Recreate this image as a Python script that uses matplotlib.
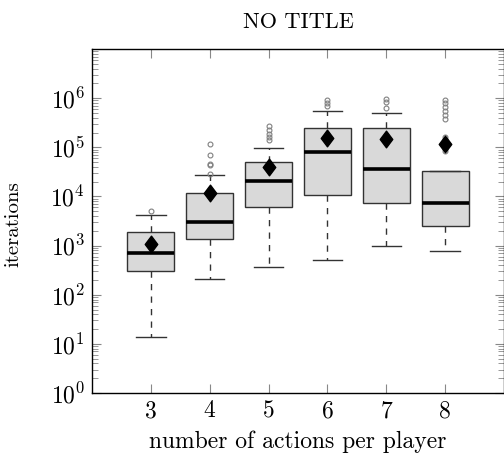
import matplotlib
matplotlib.use("Agg")
import matplotlib.pyplot as plt
from matplotlib.path import Path
from matplotlib.ticker import LogLocator, NullFormatter

plt.rcParams['font.family'] = ['cmr10', 'DejaVu Serif']
plt.rcParams['mathtext.fontset'] = 'cm'
plt.rcParams['axes.formatter.use_mathtext'] = True
plt.rcParams['font.size'] = 17

# per-group box statistics (iterations)
actions = [3, 4, 5, 6, 7, 8]
q1 = [300, 1390, 6100, 10500, 7200, 2460]
medians = [700, 3000, 21000, 79000, 36000, 7200]
q3 = [1900, 12000, 50000, 250000, 244000, 33000]
whisker_lo = [13.5, 208, 370, 520, 990, 770]
whisker_hi = [4200, 27000, 97000, 550000, 500000, 33000]
means = [1100, 11500, 40000, 158000, 145000, 115000]
outliers = [
    [5000],
    [29000, 43000, 45000, 69000, 118000],
    [140000, 162000, 190000, 222000, 270000],
    [680000, 800000, 930000],
    [640000, 850000, 980000],
    [85000, 95000, 105000, 115000, 125000, 140000, 160000,
     380000, 460000, 540000, 650000, 780000, 930000],
]
yticks = [1e0, 1e1, 1e2, 1e3, 1e4, 1e5, 1e6]

stats = []
for i in range(len(actions)):
    stats.append(dict(q1=q1[i], med=medians[i], q3=q3[i],
                      whislo=whisker_lo[i], whishi=whisker_hi[i],
                      mean=means[i], fliers=outliers[i], label=str(actions[i])))

# tall diamond for the mean marker
diamond = Path([(0, 1), (0.75, 0), (0, -1), (-0.75, 0), (0, 1)],
               [Path.MOVETO, Path.LINETO, Path.LINETO, Path.LINETO, Path.CLOSEPOLY])

fig = plt.figure(figsize=(5.04, 4.57), dpi=100)
ax = fig.add_axes([0.1825, 0.140, 0.8175, 0.7527])

ax.bxp(stats, positions=actions, widths=0.8, capwidths=0.5,
       showmeans=True, patch_artist=True,
       boxprops=dict(facecolor='#d9d9d9', edgecolor='#333333', linewidth=1.0),
       medianprops=dict(color='black', linewidth=2.6),
       whiskerprops=dict(color='#333333', linewidth=1.0, linestyle=(0, (4.5, 4.5))),
       capprops=dict(color='#333333', linewidth=1.0),
       flierprops=dict(marker='o', markerfacecolor='none', markeredgecolor='#808080',
                       markersize=3.5, markeredgewidth=0.8),
       meanprops=dict(marker=diamond, markerfacecolor='black', markeredgecolor='black',
                      markersize=12))

ax.set_yscale('log')
ax.set_ylim(1, 1e7)
ax.set_yticks(yticks)
ax.yaxis.set_minor_locator(LogLocator(base=10, subs=range(2, 10), numticks=100))
ax.yaxis.set_minor_formatter(NullFormatter())
ax.set_xlim(2, 9)
ax.set_xticks(actions)
ax.set_xticklabels([str(a) for a in actions])

ax.tick_params(which='both', direction='in', top=True, right=True, color='#888888')
ax.tick_params(which='major', length=6.5, width=0.8, pad=5)
ax.tick_params(which='minor', length=4, width=0.6)
ax.tick_params(axis='x', which='minor', top=False, bottom=False)
for s in ax.spines.values():
    s.set_linewidth(1.0)

ax.set_xlabel('number of actions per player', labelpad=6)
ax.set_ylabel('iterations', fontsize=15)
ax.yaxis.set_label_coords(-0.17, 0.49)
ax.set_title('NO TITLE', fontsize=16, pad=15)

fig.savefig('out.png', dpi=100)
